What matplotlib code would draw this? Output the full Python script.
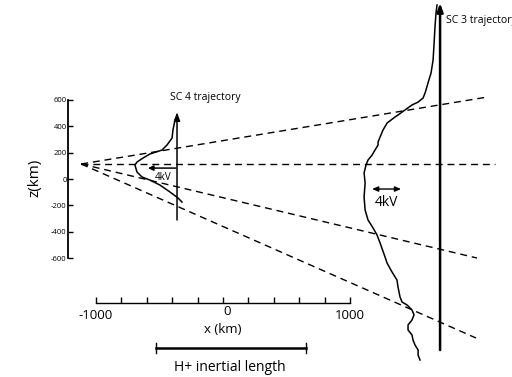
import numpy as np
import matplotlib
matplotlib.use("Agg")
import matplotlib.pyplot as plt

plt.rcParams['font.family'] = ['Open Sans', 'DejaVu Sans']

# potential profile along SC 3 (x offset in km, z in km)
sc3_x = [1684, 1676, 1668, 1661, 1653, 1637, 1613, 1590, 1574, 1535, 1487, 1432,
         1377, 1354, 1291, 1259, 1236, 1220, 1220, 1196, 1173, 1141, 1125, 1110,
         1118, 1110, 1118, 1141, 1181, 1212, 1236, 1275, 1291, 1330, 1369, 1377,
         1393, 1409, 1448, 1487, 1503, 1487, 1456, 1456, 1487, 1495, 1511, 1535,
         1535, 1550]
sc3_z = [1321, 1260, 1154, 1032, 903, 805, 729, 653, 615, 584, 562, 524,
         486, 471, 425, 372, 319, 281, 258, 220, 182, 144, 106, 46,
         -30, -137, -235, -311, -372, -425, -486, -592, -638, -706, -767, -820,
         -896, -934, -956, -994, -1032, -1070, -1108, -1146, -1184, -1222, -1260, -1298,
         -1336, -1374]

# potential profile along SC 4
sc4_x = [-362, -378, -394, -401, -441, -480, -575, -630, -677, -693, -677, -637,
         -575, -496, -417, -354, -323]
sc4_z = [471, 448, 372, 311, 258, 220, 190, 159, 129, 106, 53, 15,
         -8, -46, -99, -144, -175]

# dashed lines fanning out from the apex
apex = (-1086, 114)
ray_ends = [(2141, 114), (2078, 622), (1999, -600), (1991, -1207)]

sc4_pos, sc4_span = -362, (-311, 508)
sc3_pos, sc3_span = 1708, (-1298, 1336)

z_ticks = [600, 400, 200, 0, -200, -400, -600]
x_ticks = np.arange(-1000, 1001, 200)
x_labels = ['-1000', '', '', '', '', '', '', '', '', '', '1000']

fig = plt.figure(figsize=(5.12, 3.77), dpi=100)
ax = fig.add_axes([0, 0, 1, 1])
ax.set_xlim(-1755, 2274)
ax.set_ylim(-1503, 1359)
ax.patch.set_visible(False)

# axes drawn as detached spines
for s in ['top', 'right']:
    ax.spines[s].set_visible(False)
ax.spines['left'].set_position(('data', -1220))
ax.spines['left'].set_bounds(-600, 600)
ax.spines['left'].set_linewidth(1.3)
ax.spines['bottom'].set_position(('data', -941))
ax.spines['bottom'].set_bounds(-1000, 1000)
ax.spines['bottom'].set_linewidth(1.0)
ax.set_yticks(z_ticks)
ax.set_yticklabels([str(t) for t in z_ticks])
ax.set_xticks(x_ticks)
ax.set_xticklabels(x_labels)
ax.tick_params(axis='y', direction='in', length=3.5, width=1.0, labelsize=5.5, pad=1)
ax.tick_params(axis='x', direction='in', length=4.5, width=1.0, labelsize=9.5, pad=4)
# centre tick label sits a little higher
ax.text(31, -1009, '0', ha='center', va='center', fontsize=9.5)

ax.text(-1480, 8, 'z(km)', rotation=90, ha='center', va='center', fontsize=11)
ax.text(0, -1145, 'x (km)', ha='center', va='center', fontsize=9.5)

# dashed lines
for ex, ez in ray_ends:
    ax.plot([apex[0] - 30, ex], [apex[1], ez], ls=(0, (5, 3.5)), color='black', lw=1.0)

# spacecraft trajectories
ax.annotate('', xy=(sc4_pos, sc4_span[1]), xytext=(sc4_pos, sc4_span[0]),
            arrowprops=dict(arrowstyle='-|>,head_length=0.5,head_width=0.18',
                            color='black', lw=1.1, shrinkA=0, shrinkB=0))
ax.annotate('', xy=(sc3_pos, sc3_span[1]), xytext=(sc3_pos, sc3_span[0]),
            arrowprops=dict(arrowstyle='-|>,head_length=0.5,head_width=0.18',
                            color='black', lw=1.8, shrinkA=0, shrinkB=0))
ax.text(-417, 622, 'SC 4 trajectory', fontsize=7.5, va='center', ha='left')
ax.text(1755, 1207, 'SC 3 trajectory', fontsize=7.5, va='center', ha='left')

# potential profiles
ax.plot(sc3_x, sc3_z, color='black', lw=1.1)
ax.plot(sc4_x, sc4_z, color='black', lw=1.1)

# 4 kV scale arrows
ax.annotate('', xy=(-590, 83), xytext=(-370, 83),
            arrowprops=dict(arrowstyle='-|>,head_length=0.3,head_width=0.15',
                            color='black', lw=1.1, shrinkA=0, shrinkB=0))
ax.text(-472, 15, '4kV', fontsize=7, ha='center', va='center')
ax.annotate('', xy=(1173, -76), xytext=(1401, -76),
            arrowprops=dict(arrowstyle='<|-|>,head_length=0.35,head_width=0.15',
                            color='black', lw=1.0, shrinkA=0, shrinkB=0))
ax.text(1283, -182, '4kV', fontsize=10, ha='center', va='center')

# H+ inertial length scale bar
ax.plot([-527, 653], [-1283, -1283], color='black', lw=1.8)
ax.plot([-527, -527], [-1245, -1321], color='black', lw=1.0)
ax.plot([653, 653], [-1245, -1321], color='black', lw=1.0)
ax.text(55, -1434, 'H+ inertial length', fontsize=10, ha='center', va='center')

fig.savefig('out.png', dpi=100)
